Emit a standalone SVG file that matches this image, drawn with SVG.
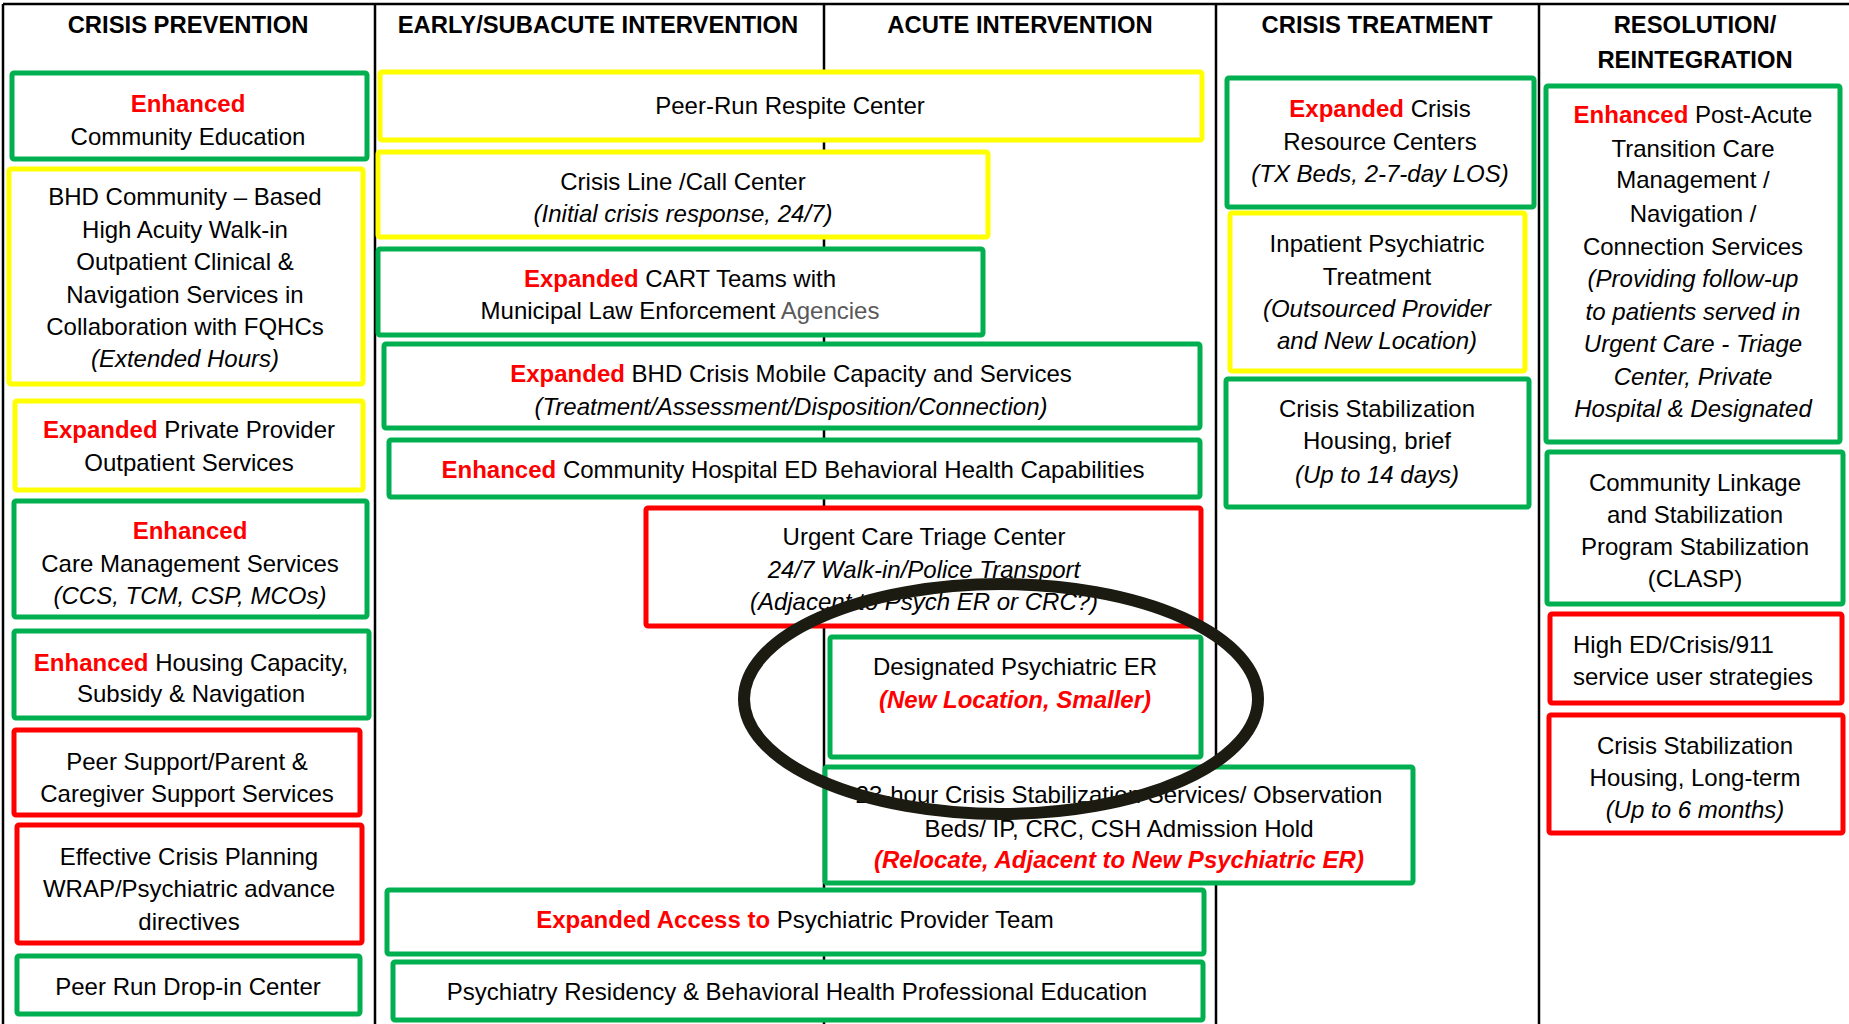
<svg xmlns="http://www.w3.org/2000/svg" width="1849" height="1024" viewBox="0 0 1849 1024">
<style>
text{font-family:"Liberation Sans",Arial,sans-serif;font-size:24px;fill:#000;text-anchor:middle}
.h{font-weight:bold;font-size:23.8px}
.i{font-style:italic}
.r{fill:#ff0000;font-weight:bold}
.gy{fill:#595959}
.l{text-anchor:start}
.bg{fill:#fff;stroke:#00b050;stroke-width:5}
.by{fill:#fff;stroke:#ffff00;stroke-width:5}
.br{fill:#fff;stroke:#ff0000;stroke-width:5}
.grid{stroke:#000;stroke-width:2.5;fill:none}
</style>
<rect width="1849" height="1024" fill="#fff"/>
<g id="grid">
<path class="grid" d="M3,4H1849M3,4V1024M375,4V1024M824,4V1024M1216,4V1024M1539,4V1024"/>
</g>
<g id="headers">
<text class="h" x="188" y="33">CRISIS PREVENTION</text>
<text class="h" x="598" y="33">EARLY/SUBACUTE INTERVENTION</text>
<text class="h" x="1020" y="33">ACUTE INTERVENTION</text>
<text class="h" x="1377" y="33">CRISIS TREATMENT</text>
<text class="h" x="1695" y="33">RESOLUTION/</text>
<text class="h" x="1695" y="68">REINTEGRATION</text>
</g>
<g id="n1"><rect class="bg" x="12" y="73" width="355" height="86" rx="2"/>
<text x="188" y="112"><tspan class="r">Enhanced</tspan></text>
<text x="188" y="145">Community Education</text></g>
<g id="n2"><rect class="by" x="9" y="169" width="354" height="215" rx="2"/>
<text x="185" y="205">BHD Community – Based</text>
<text x="185" y="238">High Acuity Walk-in</text>
<text x="185" y="270">Outpatient Clinical &amp;</text>
<text x="185" y="303">Navigation Services in</text>
<text x="185" y="335">Collaboration with FQHCs</text>
<text class="i" x="185" y="367">(Extended Hours)</text></g>
<g id="n3"><rect class="by" x="15" y="401" width="348" height="89" rx="2"/>
<text x="189" y="438"><tspan class="r">Expanded</tspan> Private Provider</text>
<text x="189" y="471">Outpatient Services</text></g>
<g id="n4"><rect class="bg" x="14" y="501" width="353" height="116" rx="2"/>
<text x="190" y="539"><tspan class="r">Enhanced</tspan></text>
<text x="190" y="572">Care Management Services</text>
<text class="i" x="190" y="604">(CCS, TCM, CSP, MCOs)</text></g>
<g id="n5"><rect class="bg" x="14" y="631" width="355" height="87" rx="2"/>
<text x="191" y="671"><tspan class="r">Enhanced</tspan> Housing Capacity,</text>
<text x="191" y="702">Subsidy &amp; Navigation</text></g>
<g id="n6"><rect class="br" x="14" y="730" width="346" height="85" rx="2"/>
<text x="187" y="770">Peer Support/Parent &amp;</text>
<text x="187" y="802">Caregiver Support Services</text></g>
<g id="n7"><rect class="br" x="17" y="825" width="345" height="118" rx="2"/>
<text x="189" y="865">Effective Crisis Planning</text>
<text x="189" y="897">WRAP/Psychiatric advance</text>
<text x="189" y="930">directives</text></g>
<g id="n8"><rect class="bg" x="17" y="956" width="343" height="58" rx="2"/>
<text x="188" y="995">Peer Run Drop-in Center</text></g>
<g id="n9"><rect class="by" x="380" y="72" width="822" height="68" rx="2"/>
<text x="790" y="114">Peer-Run Respite Center</text></g>
<g id="n10"><rect class="by" x="378" y="152" width="610" height="85" rx="2"/>
<text x="683" y="190">Crisis Line /Call Center</text>
<text class="i" x="683" y="222">(Initial crisis response, 24/7)</text></g>
<g id="n11"><rect class="bg" x="378" y="249" width="605" height="86" rx="2"/>
<text x="680" y="287"><tspan class="r">Expanded</tspan> CART Teams with</text>
<text x="680" y="319">Municipal Law Enforcement <tspan class="gy">Agencies</tspan></text></g>
<g id="n12"><rect class="bg" x="384" y="344" width="816" height="84" rx="2"/>
<text x="791" y="382"><tspan class="r">Expanded</tspan> BHD Crisis Mobile Capacity and Services</text>
<text class="i" x="791" y="415">(Treatment/Assessment/Disposition/Connection)</text></g>
<g id="n13"><rect class="bg" x="389" y="440" width="811" height="57" rx="2"/>
<text x="793" y="478"><tspan class="r">Enhanced</tspan> Community Hospital ED Behavioral Health Capabilities</text></g>
<g id="n14"><rect class="br" x="646" y="508" width="555" height="118" rx="2"/>
<text x="924" y="545">Urgent Care Triage Center</text>
<text class="i" x="924" y="578">24/7 Walk-in/Police Transport</text>
<text class="i" x="924" y="610">(Adjacent to Psych ER or CRC?)</text></g>
<g id="n15"><rect class="bg" x="830" y="637" width="371" height="120" rx="2"/>
<text x="1015" y="675">Designated Psychiatric ER</text>
<text class="i r" x="1015" y="708">(New Location, Smaller)</text></g>
<g id="n16"><rect class="bg" x="825" y="767" width="588" height="116" rx="2"/>
<text x="1119" y="803">23-hour Crisis Stabilization Services/ Observation</text>
<text x="1119" y="837">Beds/ IP, CRC, CSH Admission Hold</text>
<text class="i r" x="1119" y="868">(Relocate, Adjacent to New Psychiatric ER)</text></g>
<g id="n17"><rect class="bg" x="387" y="890" width="817" height="64" rx="2"/>
<text x="795" y="928"><tspan class="r">Expanded Access to</tspan> Psychiatric Provider Team</text></g>
<g id="n18"><rect class="bg" x="393" y="962" width="810" height="58" rx="2"/>
<text x="797" y="1000">Psychiatry Residency &amp; Behavioral Health Professional Education</text></g>
<g id="n19"><rect class="bg" x="1227" y="78" width="307" height="129" rx="2"/>
<text x="1380" y="117"><tspan class="r">Expanded</tspan> Crisis</text>
<text x="1380" y="150">Resource Centers</text>
<text class="i" x="1380" y="182">(TX Beds, 2-7-day LOS)</text></g>
<g id="n20"><rect class="by" x="1230" y="213" width="295" height="158" rx="2"/>
<text x="1377" y="252">Inpatient Psychiatric</text>
<text x="1377" y="285">Treatment</text>
<text class="i" x="1377" y="317">(Outsourced Provider</text>
<text class="i" x="1377" y="349">and New Location)</text></g>
<g id="n21"><rect class="bg" x="1226" y="379" width="303" height="128" rx="2"/>
<text x="1377" y="417">Crisis Stabilization</text>
<text x="1377" y="449">Housing, brief</text>
<text class="i" x="1377" y="483">(Up to 14 days)</text></g>
<g id="n22"><rect class="bg" x="1546" y="86" width="294" height="356" rx="2"/>
<text x="1693" y="123"><tspan class="r">Enhanced</tspan> Post-Acute</text>
<text x="1693" y="157">Transition Care</text>
<text x="1693" y="188">Management /</text>
<text x="1693" y="222">Navigation /</text>
<text x="1693" y="255">Connection Services</text>
<text class="i" x="1693" y="287">(Providing follow-up</text>
<text class="i" x="1693" y="320">to patients served in</text>
<text class="i" x="1693" y="352">Urgent Care - Triage</text>
<text class="i" x="1693" y="385">Center, Private</text>
<text class="i" x="1693" y="417">Hospital &amp; Designated</text></g>
<g id="n23"><rect class="bg" x="1547" y="452" width="296" height="152" rx="2"/>
<text x="1695" y="491">Community Linkage</text>
<text x="1695" y="523">and Stabilization</text>
<text x="1695" y="555">Program Stabilization</text>
<text x="1695" y="587">(CLASP)</text></g>
<g id="n24"><rect class="br" x="1550" y="614" width="292" height="89" rx="2"/>
<text class="l" x="1573" y="653">High ED/Crisis/911</text>
<text class="l" x="1573" y="685">service user strategies</text></g>
<g id="n25"><rect class="br" x="1549" y="715" width="294" height="118" rx="2"/>
<text x="1695" y="754">Crisis Stabilization</text>
<text x="1695" y="786">Housing, Long-term</text>
<text class="i" x="1695" y="818">(Up to 6 months)</text></g>
<g id="connectors">
<ellipse cx="1001" cy="699" rx="257" ry="115" fill="none" stroke="#1b1b12" stroke-width="12"/>
</g>
</svg>
